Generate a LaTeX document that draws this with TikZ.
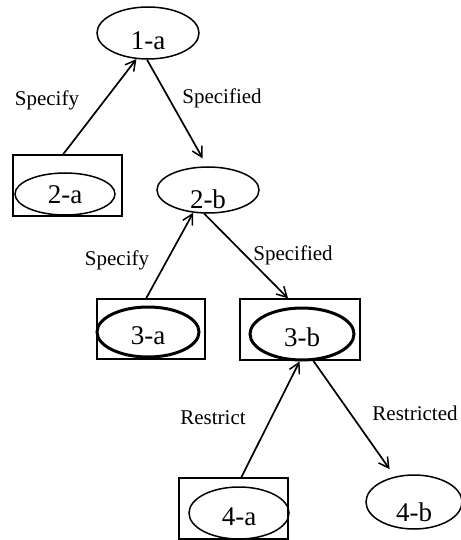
\documentclass[tikz,border=0pt]{standalone}
\usepackage{fontspec}
\setmainfont{Liberation Serif}
\usetikzlibrary{shapes.geometric,arrows.meta}
\begin{document}
\begin{tikzpicture}[x=1pt,y=-1pt,
  state/.style={draw, ellipse, line width=1.5pt, inner sep=0pt},
  bold state/.style={state, line width=3pt},
  name tag/.style={font=\fontsize{27}{27}\selectfont, inner sep=0pt},
  frame/.style={draw, rectangle, line width=1.3pt, inner sep=0pt},
  rel/.style={font=\fontsize{21}{21}\selectfont, inner sep=0pt},
  link/.style={line width=1.7pt, -{Straight Barb[length=10pt,width=11pt,line width=1.5pt]}}
]
\useasboundingbox (0,0) rectangle (460,540);

% framed states
\node[frame, minimum width=109pt, minimum height=61pt] (b2a) at (67.5,185.5) {};
\node[frame, minimum width=108pt, minimum height=60pt] (b3a) at (151,329) {};
\node[frame, minimum width=120pt, minimum height=61pt] (b3b) at (300,329.5) {};
\node[frame, minimum width=109pt, minimum height=61pt] (b4a) at (233.5,508.5) {};

% states, each with its name set a little below the middle
\node[state, minimum width=102pt, minimum height=52pt,
  label={[name tag, name=t1a, yshift=-8pt]center:1-a}] (e1a) at (148,33) {};
\node[state, minimum width=100pt, minimum height=42pt,
  label={[name tag, name=t2a, yshift=-1pt]center:2-a}] (e2a) at (65,194) {};
\node[state, minimum width=102pt, minimum height=46pt,
  label={[name tag, name=t2b, yshift=-9pt]center:2-b}] (e2b) at (208,190) {};
\node[bold state, minimum width=102pt, minimum height=50pt,
  label={[name tag, name=t3a, yshift=-4pt]center:3-a}] (e3a) at (148,332) {};
\node[bold state, minimum width=104pt, minimum height=52pt,
  label={[name tag, name=t3b, yshift=-3pt]center:3-b}] (e3b) at (302,334) {};
\node[state, minimum width=100pt, minimum height=52pt,
  label={[name tag, name=t4a, yshift=-4pt]center:4-a}] (e4a) at (239,513) {};
\node[state, minimum width=96pt, minimum height=54pt,
  label={[name tag, name=t4b, yshift=-10pt]center:4-b}] (e4b) at (414,502) {};

% relation labels
\node[rel] (l1) at (47,100) {Specify};
\node[rel] (l2) at (222,98) {Specified};
\node[rel] (l3) at (117,260) {Specify};
\node[rel] (l4) at (293,255) {Specified};
\node[rel] (l5) at (213,418) {Restrict};
\node[rel] (l6) at (415,413) {Restricted};

% relations
\draw[link] (b2a.98) -- (e1a.246);
\draw[link, shorten >=9pt] (e1a.268) -- (e2b.92);
\draw[link] (b3a.99) -- (e2b.237);
\draw[link] (e2b.261) -- (b3b.111.5);
\draw[link] (b4a.76) -- (e3b.265.6);
\draw[link, shorten >=9pt] (e3b.293) -- (e4b.127);
\end{tikzpicture}
\end{document}
